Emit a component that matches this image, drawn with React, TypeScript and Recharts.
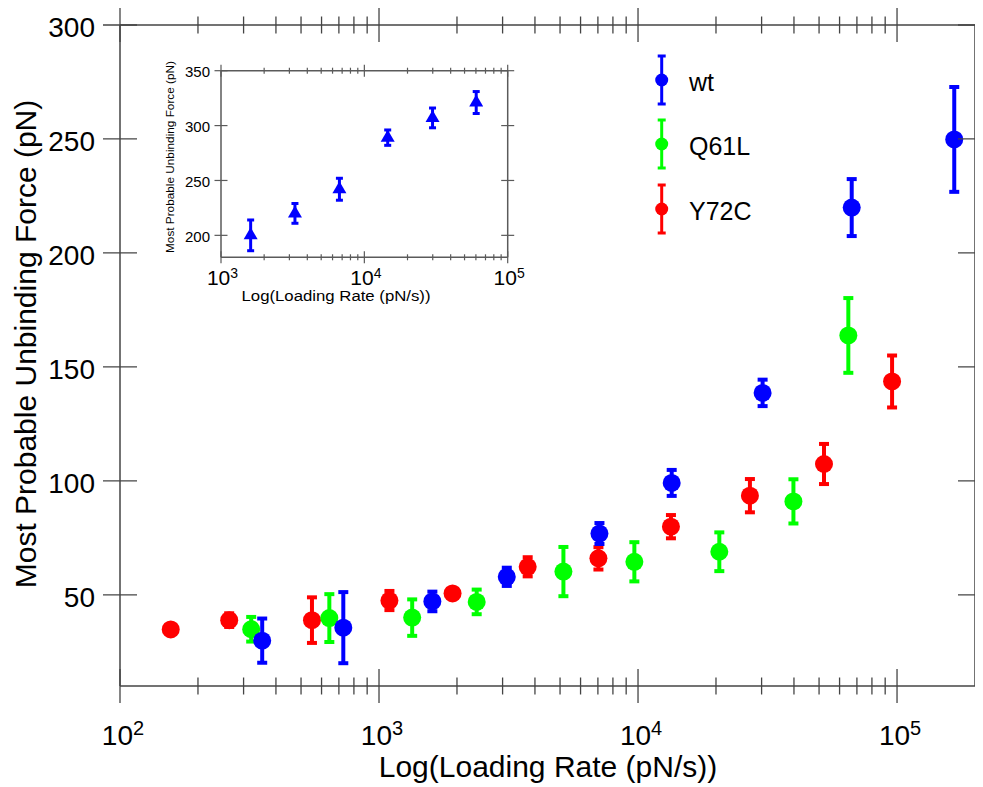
import React from 'react';
import { ScatterChart, Scatter, XAxis, YAxis, ErrorBar, Legend, Label } from 'recharts';

const FONT = '"Liberation Sans", Arial, Helvetica, sans-serif';

// ---- main chart data ----
const wtRate = [354, 728, 1607, 3114, 7097, 13490, 30270, 66840, 166300];
const wtForce = [29.9, 35.6, 47.1, 57.9, 76.9, 99.1, 138.6, 219.9, 249.8];
const wtErr = [9.7, 15.6, 4.3, 4.0, 4.6, 5.7, 5.8, 12.5, 23];

const q61lRate = [321, 643, 1343, 2383, 5152, 9680, 20600, 39810, 64860];
const q61lForce = [34.9, 39.8, 40.0, 46.9, 60.2, 64.5, 68.9, 91.0, 163.8];
const q61lErr = [5.4, 10.5, 8.0, 5.4, 10.8, 8.6, 8.5, 9.7, 16.4];

const y72cRate = [157, 264, 551, 1097, 1923, 3750, 7033, 13400, 27040, 52240, 95690];
const y72cForce = [34.8, 38.9, 38.9, 47.5, 50.6, 62.3, 66.0, 79.9, 93.5, 107.4, 143.6];
const y72cErr = [1.5, 3.0, 10.0, 4.2, 1.5, 4.2, 4.9, 5.1, 7.3, 8.8, 11.4];

const seriesNames = ['wt', 'Q61L', 'Y72C'];

// ---- inset data ----
const insetRate = [1610, 3280, 6700, 14550, 29900, 60300];
const insetForce = [200, 220, 242, 289, 307, 321];
const insetErr = [14, 9, 10, 7, 9, 10];

// ---- ticks ----
const mainXTicks = [100, 200, 300, 400, 500, 600, 700, 800, 900, 1000, 2000, 3000, 4000, 5000, 6000, 7000, 8000, 9000, 10000, 20000, 30000, 40000, 50000, 60000, 70000, 80000, 90000, 100000];
const mainYTicks = [50, 100, 150, 200, 250, 300];
const insetXTicks = [1000, 2000, 3000, 4000, 5000, 6000, 7000, 8000, 9000, 10000, 20000, 30000, 40000, 50000, 60000, 70000, 80000, 90000, 100000];
const insetYTicks = [200, 250, 300, 350];

const build = (xs: number[], ys: number[], es: number[]) => xs.map((x, i) => ({ x, y: ys[i], err: es[i] }));
const wtData = build(wtRate, wtForce, wtErr);
const q61lData = build(q61lRate, q61lForce, q61lErr);
const y72cData = build(y72cRate, y72cForce, y72cErr);
const insetData = build(insetRate, insetForce, insetErr);

const BLUE = '#0000ff';
const GREEN = '#00ff00';
const RED = '#ff0000';
const AXIS = '#444444';

const isPow10 = (v: number) => Math.abs(Math.log10(v) - Math.round(Math.log10(v))) < 1e-9;

const makeXTick = (o: { major: number; minor: number; labels: boolean; stroke: string; sw: number; fs?: number; sfs?: number; off?: number; sdy?: number; dx?: number }) => (props: any) => {
  const { x, y, payload } = props;
  const v = payload.value;
  const major = isPow10(v);
  const h = major ? o.major : o.minor;
  return (
    <g>
      <line x1={x} x2={x} y1={y - h} y2={y + h} stroke={o.stroke} strokeWidth={o.sw} />
      {o.labels && major ? (
        <text x={x + (o.dx || 0)} y={y + (o.off || 0)} textAnchor="middle" fontFamily={FONT} fontSize={o.fs} fill="#000">
          <tspan>10</tspan>
          <tspan dy={o.sdy} fontSize={o.sfs}>{Math.round(Math.log10(v))}</tspan>
        </text>
      ) : null}
    </g>
  );
};

const makeYTick = (o: { half: number; labels: boolean; stroke: string; sw: number; fs?: number; gap?: number; off?: number }) => (props: any) => {
  const { x, y, payload } = props;
  return (
    <g>
      <line x1={x - o.half} x2={x + o.half} y1={y} y2={y} stroke={o.stroke} strokeWidth={o.sw} />
      {o.labels ? (
        <text x={x - (o.gap || 0)} y={y + (o.off || 0)} textAnchor="end" fontFamily={FONT} fontSize={o.fs} fill="#000">
          {payload.value}
        </text>
      ) : null}
    </g>
  );
};

const mainBottomTick = makeXTick({ major: 17, minor: 8.5, labels: true, stroke: AXIS, sw: 1.3, fs: 28, sfs: 20, off: 59, sdy: -10, dx: 3 });
const mainTopTick = makeXTick({ major: 17, minor: 8.5, labels: false, stroke: AXIS, sw: 1.3 });
const mainLeftTick = makeYTick({ half: 17, labels: true, stroke: AXIS, sw: 1.3, fs: 28, gap: 25, off: 12 });
const mainRightTick = makeYTick({ half: 17, labels: false, stroke: AXIS, sw: 1.3 });

const INSET_AXIS = '#5a5a5a';
const insetBottomTick = makeXTick({ major: 6, minor: 3, labels: true, stroke: INSET_AXIS, sw: 1.2, fs: 21, sfs: 14, off: 28, sdy: -7, dx: 1.5 });
const insetTopTick = makeXTick({ major: 6, minor: 3, labels: false, stroke: INSET_AXIS, sw: 1.2 });
const insetLeftTick = makeYTick({ half: 6.5, labels: true, stroke: INSET_AXIS, sw: 1.2, fs: 15, gap: 11, off: 6.5 });
const insetRightTick = makeYTick({ half: 6.5, labels: false, stroke: INSET_AXIS, sw: 1.2 });

const dot = (color: string, r: number) => (p: any) => <circle cx={p.cx} cy={p.cy} r={r} fill={color} />;
const triangle = (p: any) => (
  <polygon points={`${p.cx},${p.cy - 8} ${p.cx - 7},${p.cy + 4} ${p.cx + 7},${p.cy + 4}`} fill={BLUE} />
);

const legendColors = [BLUE, GREEN, RED];
const legendRows = [32, 96, 161];

const renderLegend = () => (
  <svg width={160} height={190} style={{ display: 'block', overflow: 'visible' }}>
    {seriesNames.map((name, i) => {
      const cy = legendRows[i];
      const cx = 33.7;
      const c = legendColors[i];
      return (
        <g key={name}>
          <line x1={cx} x2={cx} y1={cy - 24} y2={cy + 24} stroke={c} strokeWidth={3} />
          <line x1={cx - 4} x2={cx + 4} y1={cy - 24} y2={cy - 24} stroke={c} strokeWidth={3} />
          <line x1={cx - 4} x2={cx + 4} y1={cy + 24} y2={cy + 24} stroke={c} strokeWidth={3} />
          <circle cx={cx} cy={cy} r={6.5} fill={c} />
          <text x={61} y={cy + 11} fontFamily={FONT} fontSize={25} fill="#000">{name}</text>
        </g>
      );
    })}
  </svg>
);

const XMainLabel = () => (
  <text x={540} y={769} textAnchor="middle" fontFamily={FONT} fontSize={30} fill="#000">Log(Loading Rate (pN/s))</text>
);
const YMainLabel = () => (
  <text x={28} y={336} transform="rotate(-90, 28, 336)" textAnchor="middle" fontFamily={FONT} fontSize={30} fill="#000">Most Probable Unbinding Force (pN)</text>
);
const XInsetLabel = () => (
  <text x={186} y={250.5} textAnchor="middle" fontFamily={FONT} fontSize={14} textLength={189} lengthAdjust="spacingAndGlyphs" fill="#000">Log(Loading Rate (pN/s))</text>
);
const YInsetLabel = () => (
  <text x={24} y={107} transform="rotate(-90, 24, 107)" textAnchor="middle" fontFamily={FONT} fontSize={11} textLength={192} lengthAdjust="spacingAndGlyphs" fill="#000">Most Probable Unbinding Force (pN)</text>
);

export default function App() {
  return (
    <div style={{ position: 'relative', width: 975, height: 779, fontFamily: FONT }}>
      <ScatterChart width={975} height={779} margin={{ top: 0, right: 0, bottom: 0, left: 0 }}>
        <XAxis
          xAxisId="b"
          dataKey="x"
          type="number"
          scale="log"
          domain={[100, 200000]}
          allowDataOverflow
          ticks={mainXTicks}
          interval={0}
          orientation="bottom"
          height={101}
          tickSize={0}
          tickMargin={0}
          tick={mainBottomTick}
          axisLine={{ stroke: AXIS, strokeWidth: 1.5 }}
          tickLine={false}
        >
          <Label content={XMainLabel} />
        </XAxis>
        <XAxis
          xAxisId="t"
          dataKey="x"
          type="number"
          scale="log"
          domain={[100, 200000]}
          allowDataOverflow
          ticks={mainXTicks}
          interval={0}
          orientation="top"
          height={17}
          tickSize={0}
          tickMargin={0}
          tick={mainTopTick}
          axisLine={{ stroke: AXIS, strokeWidth: 1.5 }}
          tickLine={false}
        />
        <YAxis
          yAxisId="l"
          dataKey="y"
          type="number"
          domain={[10, 300]}
          allowDataOverflow
          ticks={mainYTicks}
          interval={0}
          orientation="left"
          width={112}
          tickSize={0}
          tickMargin={0}
          tick={mainLeftTick}
          axisLine={{ stroke: AXIS, strokeWidth: 1.5 }}
          tickLine={false}
        >
          <Label content={YMainLabel} />
        </YAxis>
        <YAxis
          yAxisId="r"
          dataKey="y"
          type="number"
          domain={[10, 300]}
          allowDataOverflow
          ticks={mainYTicks}
          interval={0}
          orientation="right"
          width={8}
          tickSize={0}
          tickMargin={0}
          tick={mainRightTick}
          axisLine={{ stroke: AXIS, strokeWidth: 1.5 }}
          tickLine={false}
        />
        <Legend
          layout="vertical"
          align="center"
          verticalAlign="middle"
          content={renderLegend}
          wrapperStyle={{ position: 'absolute', left: 620, top: 40, width: 160, height: 190 }}
        />
        <Scatter name="Y72C" data={y72cData} xAxisId="b" yAxisId="l" fill={RED} shape={dot(RED, 9)} isAnimationActive={false}>
          <ErrorBar dataKey="err" direction="y" width={5} strokeWidth={4} stroke={RED} />
        </Scatter>
        <Scatter name="Q61L" data={q61lData} xAxisId="b" yAxisId="l" fill={GREEN} shape={dot(GREEN, 9)} isAnimationActive={false}>
          <ErrorBar dataKey="err" direction="y" width={5} strokeWidth={4} stroke={GREEN} />
        </Scatter>
        <Scatter name="wt" data={wtData} xAxisId="b" yAxisId="l" fill={BLUE} shape={dot(BLUE, 9)} isAnimationActive={false}>
          <ErrorBar dataKey="err" direction="y" width={5} strokeWidth={4} stroke={BLUE} />
        </Scatter>
      </ScatterChart>

      <div style={{ position: 'absolute', left: 142, top: 42, width: 380, height: 260 }}>
        <ScatterChart width={380} height={260} margin={{ top: 0, right: 0, bottom: 0, left: 0 }}>
          <XAxis
            xAxisId="b"
            dataKey="x"
            type="number"
            scale="log"
            domain={[1000, 100000]}
            allowDataOverflow
            ticks={insetXTicks}
            interval={0}
            orientation="bottom"
            height={52.7}
            tickSize={0}
            tickMargin={0}
            tick={insetBottomTick}
            axisLine={{ stroke: INSET_AXIS, strokeWidth: 1.5 }}
            tickLine={false}
          >
            <Label content={XInsetLabel} />
          </XAxis>
          <XAxis
            xAxisId="t"
            dataKey="x"
            type="number"
            scale="log"
            domain={[1000, 100000]}
            allowDataOverflow
            ticks={insetXTicks}
            interval={0}
            orientation="top"
            height={20.7}
            tickSize={0}
            tickMargin={0}
            tick={insetTopTick}
            axisLine={{ stroke: INSET_AXIS, strokeWidth: 1.5 }}
            tickLine={false}
          />
          <YAxis
            yAxisId="l"
            dataKey="y"
            type="number"
            domain={[180, 350]}
            allowDataOverflow
            ticks={insetYTicks}
            interval={0}
            orientation="left"
            width={71}
            tickSize={0}
            tickMargin={0}
            tick={insetLeftTick}
            axisLine={{ stroke: INSET_AXIS, strokeWidth: 1.5 }}
            tickLine={false}
          >
            <Label content={YInsetLabel} />
          </YAxis>
          <YAxis
            yAxisId="r"
            dataKey="y"
            type="number"
            domain={[180, 350]}
            allowDataOverflow
            ticks={insetYTicks}
            interval={0}
            orientation="right"
            width={22.3}
            tickSize={0}
            tickMargin={0}
            tick={insetRightTick}
            axisLine={{ stroke: INSET_AXIS, strokeWidth: 1.5 }}
            tickLine={false}
          />
          <Scatter name="inset wt" data={insetData} xAxisId="b" yAxisId="l" fill={BLUE} shape={triangle} isAnimationActive={false}>
            <ErrorBar dataKey="err" direction="y" width={3.5} strokeWidth={3} stroke={BLUE} />
          </Scatter>
        </ScatterChart>
      </div>
    </div>
  );
}
